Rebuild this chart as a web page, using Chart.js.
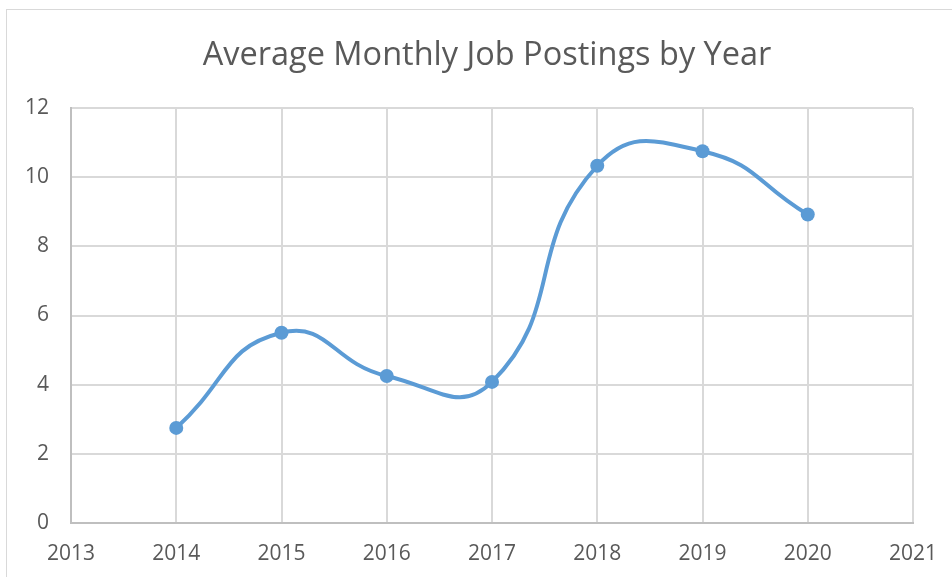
<!DOCTYPE html>
<html>
<head>
<meta charset="utf-8">
<script src="https://cdn.jsdelivr.net/npm/chart.js@4/dist/chart.umd.min.js"></script>
<style>
  body { margin: 0; background: #fff; }
  #wrap { position: relative; width: 952px; height: 577px; overflow: hidden; }
  #frame { position: absolute; left: 6px; top: 9px; width: 1000px; height: 1000px;
           border-left: 1px solid #d9d9d9; border-top: 1px solid #d9d9d9; pointer-events: none; }
</style>
</head>
<body>
<div id="wrap">
  <canvas id="lineChart" width="952" height="577"></canvas>
  <div id="frame"></div>
</div>
<script>
// data
const years = [2014, 2015, 2016, 2017, 2018, 2019, 2020];
const postings = [2.75, 5.5, 4.25, 4.08, 10.33, 10.75, 8.92];

const xMin = 2013, xMax = 2021;
const yMin = 0, yMax = 12, yStep = 2;
const chartTitle = 'Average Monthly Job Postings by Year';

const points = years.map((yr, i) => ({ x: yr, y: postings[i] }));

// title is centred on the whole (cropped) chart box, not the canvas
const titlePlugin = {
  id: 'titlePlugin',
  afterDraw(chart) {
    const c = chart.ctx;
    c.save();
    c.fillStyle = '#595959';
    c.font = '32.5px "Open Sans"';
    c.textAlign = 'center';
    c.textBaseline = 'alphabetic';
    c.fillText(chartTitle, 487, 65);
    c.restore();
  }
};

const ctx = document.getElementById('lineChart').getContext('2d');
const lineChart = new Chart(ctx, {
  type: 'line',
  data: {
    datasets: [{
      label: 'Average Monthly Job Postings',
      data: points,
      borderColor: '#5b9bd5',
      backgroundColor: '#5b9bd5',
      borderWidth: 4,
      tension: 0.5,
      pointRadius: 7,
      pointBorderWidth: 0,
      pointHoverRadius: 7
    }]
  },
  options: {
    responsive: false,
    animation: false,
    layout: { padding: { left: 0, right: 39, top: 108, bottom: 0 } },
    plugins: {
      legend: { display: false },
      tooltip: { enabled: false },
      title: { display: false }
    },
    scales: {
      x: {
        type: 'linear',
        min: xMin,
        max: xMax,
        afterFit: s => { s.height = 54; s.paddingLeft = 0; s.paddingRight = 0; },
        ticks: {
          stepSize: 1,
          color: '#595959',
          font: { family: 'Open Sans', size: 21 },
          padding: 18,
          callback: v => String(v)
        },
        grid: { color: '#d9d9d9', lineWidth: 2, drawTicks: false },
        border: { color: '#bfbfbf', width: 2 }
      },
      y: {
        min: yMin,
        max: yMax,
        afterFit: s => { s.width = 71; s.paddingTop = 0; s.paddingBottom = 0; },
        ticks: {
          stepSize: yStep,
          color: '#595959',
          font: { family: 'Open Sans', size: 21 },
          padding: 22
        },
        grid: { color: '#d9d9d9', lineWidth: 2, drawTicks: false },
        border: { color: '#bfbfbf', width: 2 }
      }
    }
  },
  plugins: [titlePlugin]
});
</script>
</body>
</html>
